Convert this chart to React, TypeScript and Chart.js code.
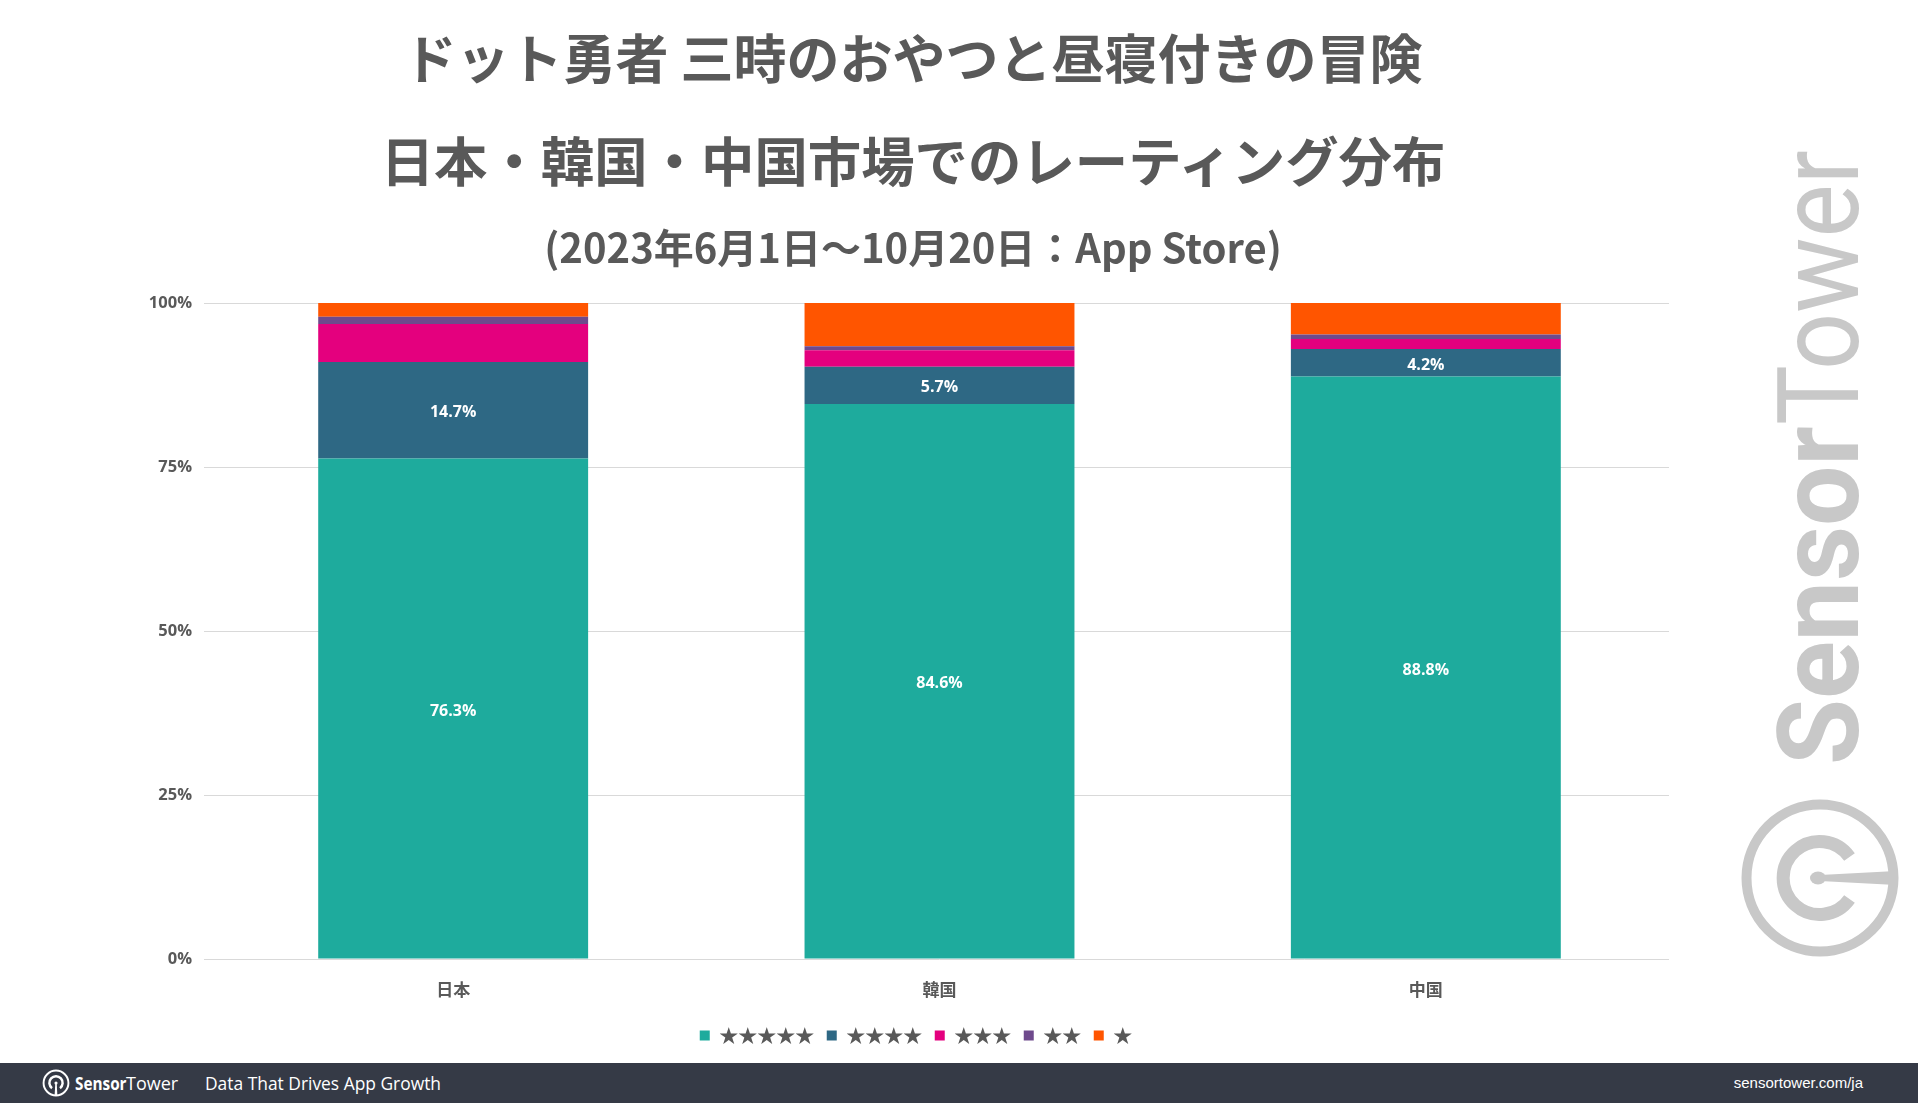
import React, { useEffect, useRef } from "react";
import { Chart, registerables } from "chart.js";

Chart.register(...registerables);

// ---- data ----
const categories = ["日本", "韓国", "中国"];
const seriesLabels = ["★★★★★", "★★★★", "★★★", "★★", "★"];
const fiveStar = [76.3, 84.6, 88.8];
const fourStar = [14.7, 5.7, 4.2];
const threeStar = [5.8, 2.5, 1.5];
const twoStar = [1.1, 0.6, 0.7];
const oneStar = [2.1, 6.6, 4.8];
const seriesColors = ["#1EAB9D", "#2E6884", "#E4007E", "#6E4A8C", "#FF5500"];
const yTicks = [0, 25, 50, 75, 100];
const labeledSeries = [0, 1];

const titleLine1 = "ドット勇者 三時のおやつと昼寝付きの冒険";
const titleLine2 = "日本・韓国・中国市場でのレーティング分布";
const titleLine3 = "(2023年6月1日～10月20日：App Store)";

const GRAY = "#595959";

const segmentLabelPlugin = {
  id: "segmentLabels",
  afterLayout(chart: any) {
    // centre the legend on the same axis as the titles
    if (chart.legend) chart.legend.left = 163;
  },
  afterDatasetsDraw(chart: any) {
    const ctx = chart.ctx;
    ctx.save();
    ctx.font = 'bold 16px "Open Sans", sans-serif';
    ctx.fillStyle = "#ffffff";
    ctx.textAlign = "center";
    ctx.textBaseline = "middle";
    labeledSeries.forEach((di) => {
      const meta = chart.getDatasetMeta(di);
      meta.data.forEach((bar: any, i: number) => {
        const v = chart.data.datasets[di].data[i] as number;
        const p = bar.getProps(["x", "y", "base"], true);
        ctx.fillText(v.toFixed(1) + "%", p.x, (p.y + p.base) / 2 + 2.5);
      });
    });
    ctx.restore();
  },
};

function LogoMark({ color, size }: { color: string; size: number }) {
  // stem pointing right (rotated logo)
  return (
    <svg width={size} height={size} viewBox="-80 -80 160 160">
      <circle cx={0} cy={0} r={73.5} fill="none" stroke={color} strokeWidth={10} />
      <path d="M 29.5 -21 A 36.5 36.5 0 1 0 29.5 21" fill="none" stroke={color} strokeWidth={13} />
      <ellipse cx={-2} cy={0} rx={8} ry={6.5} fill={color} />
      <polygon points="0,-3 76,-7 76,7 0,3" fill={color} />
    </svg>
  );
}

function FooterMark() {
  return (
    <svg width={28} height={28} viewBox="-80 -80 160 160">
      <g transform="rotate(90)">
        <circle cx={0} cy={0} r={71} fill="none" stroke="#ffffff" strokeWidth={11} />
        <path d="M 29.5 -23 A 38 38 0 1 0 29.5 23" fill="none" stroke="#ffffff" strokeWidth={14} />
        <circle cx={0} cy={0} r={9} fill="#ffffff" />
        <polygon points="0,-4 74,-8 74,8 0,4" fill="#ffffff" />
      </g>
    </svg>
  );
}

export default function App() {
  const canvasRef = useRef<HTMLCanvasElement | null>(null);

  useEffect(() => {
    if (!canvasRef.current) return;
    const dataSets = [fiveStar, fourStar, threeStar, twoStar, oneStar];
    const chart = new Chart(canvasRef.current, {
      type: "bar",
      data: {
        labels: categories,
        datasets: dataSets.map((d, i) => ({
          label: seriesLabels[i],
          data: d,
          backgroundColor: seriesColors[i],
          borderWidth: 0,
          barPercentage: 0.555,
          categoryPercentage: 1,
        })),
      },
      options: {
        animation: false,
        responsive: false,
        maintainAspectRatio: false,
        layout: { padding: { left: 148, right: 249, top: 303, bottom: 5 } },
        plugins: {
          title: { display: false },
          tooltip: { enabled: false },
          legend: {
            display: true,
            position: "bottom",
            labels: {
              boxWidth: 10,
              boxHeight: 10,
              padding: 12.5,
              color: GRAY,
              font: { family: '"Noto Sans CJK JP", sans-serif', size: 19 },
            },
          },
        },
        scales: {
          x: {
            stacked: true,
            grid: { display: false },
            border: { display: false },
            ticks: {
              color: GRAY,
              padding: 12.5,
              font: { family: '"Noto Sans CJK JP", sans-serif', size: 17, weight: "bold" },
            },
            afterFit: (scale: any) => {
              scale.height = 54.5;
            },
          },
          y: {
            stacked: true,
            min: 0,
            max: 100,
            grid: { color: "#d9d9d9", lineWidth: 1, drawTicks: true, tickLength: 6, tickColor: "#d9d9d9" },
            border: { display: false },
            ticks: {
              color: GRAY,
              padding: 12,
              font: { family: '"Open Sans", sans-serif', size: 16.5, weight: "bold" },
              callback: (v: any) => v + "%",
            },
            afterBuildTicks: (scale: any) => {
              scale.ticks = yTicks.map((v) => ({ value: v }));
            },
            afterFit: (scale: any) => {
              scale.width = 62;
            },
          },
        },
      },
      plugins: [segmentLabelPlugin],
    });
    return () => chart.destroy();
  }, []);

  const titleBase: React.CSSProperties = {
    position: "absolute",
    left: 0,
    width: 1826,
    textAlign: "center",
    color: GRAY,
    fontFamily: '"Noto Sans CJK JP", sans-serif',
    fontWeight: 700,
    whiteSpace: "nowrap",
  };

  const wmBase: React.CSSProperties = {
    position: "absolute",
    left: 0,
    top: 0,
    transformOrigin: "0 0",
    fontFamily: "Roboto, sans-serif",
    fontSize: 114,
    lineHeight: "114px",
    whiteSpace: "nowrap",
    color: "#c8c8c8",
  };

  const footText: React.CSSProperties = {
    position: "absolute",
    top: 0,
    lineHeight: "40px",
    color: "#ffffff",
    whiteSpace: "nowrap",
  };

  return (
    <div
      style={{
        position: "absolute",
        left: 0,
        top: 0,
        width: 1918,
        height: 1103,
        background: "#ffffff",
        overflow: "hidden",
      }}
    >
      <canvas
        ref={canvasRef}
        width={1918}
        height={1060}
        style={{ position: "absolute", left: 0, top: 0, width: 1918, height: 1060 }}
      />

      <div style={{ ...titleBase, top: 30, fontSize: 53, lineHeight: "53px" }}>{titleLine1}</div>
      <div style={{ ...titleBase, top: 132, fontSize: 53.4, lineHeight: "53px" }}>{titleLine2}</div>
      <div style={{ ...titleBase, top: 226, fontSize: 40, lineHeight: "40px" }}>{titleLine3}</div>

      {/* watermark */}
      <div style={{ ...wmBase, fontWeight: 700, transform: "translate(1762px, 765px) rotate(-90deg) scaleX(0.94)" }}>
        Sensor
      </div>
      <div style={{ ...wmBase, fontWeight: 400, transform: "translate(1762px, 425px) rotate(-90deg) scaleX(0.88)" }}>
        Tower
      </div>
      <div style={{ position: "absolute", left: 1740, top: 798 }}>
        <LogoMark color="#c8c8c8" size={160} />
      </div>

      {/* footer */}
      <div style={{ position: "absolute", left: 0, top: 1063, width: 1918, height: 40, background: "#353a46" }}>
        <div style={{ position: "absolute", left: 42, top: 6 }}>
          <FooterMark />
        </div>
        <div
          style={{
            ...footText,
            left: 75,
            fontFamily: '"Open Sans", sans-serif',
            fontWeight: 700,
            fontSize: 18,
            transformOrigin: "0 50%",
            transform: "scaleX(0.85)",
          }}
        >
          Sensor
        </div>
        <div style={{ ...footText, left: 126, fontFamily: '"Open Sans", sans-serif', fontWeight: 400, fontSize: 18 }}>
          Tower
        </div>
        <div style={{ ...footText, left: 205, fontFamily: '"Open Sans", sans-serif', fontSize: 17.4 }}>
          Data That Drives App Growth
        </div>
        <div style={{ ...footText, right: 55, fontFamily: '"Liberation Sans", Arial, sans-serif', fontSize: 15 }}>
          sensortower.com/ja
        </div>
      </div>
    </div>
  );
}
